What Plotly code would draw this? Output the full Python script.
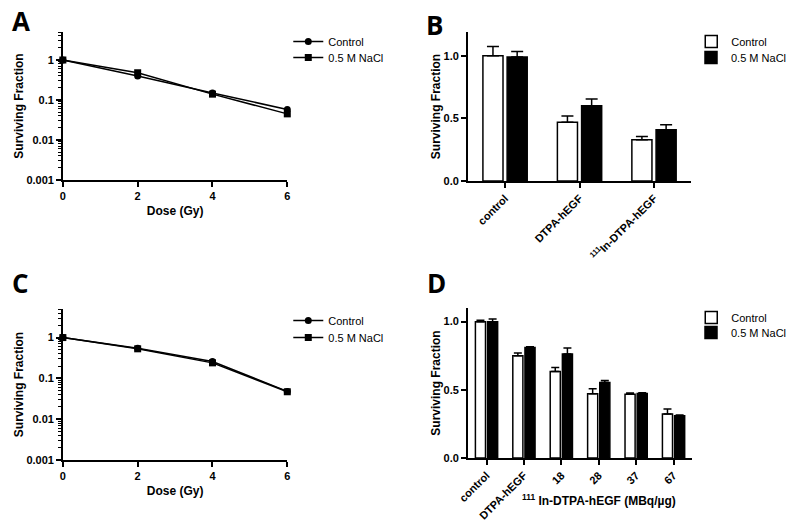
import plotly.graph_objects as go

# Panels A and C: survival vs dose (log scale)
dose = [0, 2, 4, 6]
a_control = [1.0, 0.40, 0.15, 0.058]
a_nacl = [1.0, 0.48, 0.14, 0.045]
c_control = [1.0, 0.55, 0.26, 0.048]
c_nacl = [1.0, 0.53, 0.24, 0.047]

# Panel B
b_cats = ["control", "DTPA-hEGF", "<sup>111</sup>In-DTPA-hEGF"]
b_control = [1.0, 0.47, 0.33]
b_control_err = [0.075, 0.05, 0.025]
b_nacl = [0.99, 0.60, 0.41]
b_nacl_err = [0.045, 0.055, 0.04]

# Panel D
d_cats = ["control", "DTPA-hEGF", "18", "28", "37", "67"]
d_control = [1.0, 0.75, 0.634, 0.471, 0.468, 0.322]
d_control_err = [0.01, 0.02, 0.03, 0.036, 0.008, 0.037]
d_nacl = [1.0, 0.81, 0.763, 0.554, 0.473, 0.31]
d_nacl_err = [0.02, 0.006, 0.043, 0.015, 0.006, 0.005]

log_ticks = [0.001, 0.01, 0.1, 1]
log_ticktext = ["0.001", "0.01", "0.1", "1"]
minor_vals = [m * 10.0 ** e for e in range(-3, 1) for m in range(2, 10)]

FONT = "Liberation Sans"
# page body has an 8px margin, so the figure is a bit smaller than the window
OFF = 8
W, H = 784, 512


def px_x(a, b):
    return [(a - OFF) / W, (b - OFF) / W]


def px_y(top, bottom):
    return [1 - (bottom - OFF) / H, 1 - (top - OFF) / H]


def pos(x, y):
    return (x - OFF) / W, 1 - (y - OFF) / H


fig = go.Figure()

# line panels (each trace gets its own legend box so entries sit tight)
for ctrl, nacl, xa, ya, lc, ln in [(a_control, a_nacl, "x", "y", "legend", "legend2"),
                                   (c_control, c_nacl, "x3", "y3", "legend5", "legend6")]:
    fig.add_trace(go.Scatter(x=dose, y=ctrl, mode="lines+markers", name="Control",
                             line=dict(color="black", width=1.5),
                             marker=dict(symbol="circle", size=7, color="black"),
                             xaxis=xa, yaxis=ya, legend=lc, cliponaxis=False))
    fig.add_trace(go.Scatter(x=dose, y=nacl, mode="lines+markers", name="0.5 M NaCl",
                             line=dict(color="black", width=1.5),
                             marker=dict(symbol="square", size=7, color="black"),
                             xaxis=xa, yaxis=ya, legend=ln, cliponaxis=False))

# bar panels
for cats, c, ce, n, ne, xa, ya, lc, ln, capw in [
    (b_cats, b_control, b_control_err, b_nacl, b_nacl_err, "x2", "y2", "legend3", "legend4", 6),
    (d_cats, d_control, d_control_err, d_nacl, d_nacl_err, "x4", "y4", "legend7", "legend8", 4),
]:
    fig.add_trace(go.Bar(x=cats, y=c, name="Control",
                         marker=dict(color="white", line=dict(color="black", width=1.5)),
                         error_y=dict(type="data", array=ce, arrayminus=[0] * len(ce),
                                      symmetric=False, color="black", thickness=1.5, width=capw),
                         xaxis=xa, yaxis=ya, legend=lc))
    fig.add_trace(go.Bar(x=cats, y=n, name="0.5 M NaCl",
                         marker=dict(color="black", line=dict(color="black", width=1.5)),
                         error_y=dict(type="data", array=ne, arrayminus=[0] * len(ne),
                                      symmetric=False, color="black", thickness=1.5, width=capw),
                         xaxis=xa, yaxis=ya, legend=ln))

axis_common = dict(showline=True, linecolor="black", linewidth=1.5, ticks="outside",
                   tickcolor="black", tickwidth=1.5, ticklen=5, showgrid=False, zeroline=False,
                   automargin=False,
                   tickfont=dict(family=FONT, size=11, color="black", weight="bold"),
                   title_font=dict(family=FONT, size=12, color="black", weight="bold"))

log_axis = dict(axis_common, type="log", range=[-3, 0.7], tickmode="array",
                tickvals=log_ticks, ticktext=log_ticktext,
                minor=dict(ticks="outside", ticklen=3, tickcolor="black", tickwidth=1,
                           tickmode="array", tickvals=minor_vals, showgrid=False),
                title_text="Surviving Fraction", title_standoff=0)
dose_axis = dict(axis_common, range=[0, 6], tickvals=dose, title_text="Dose (Gy)",
                 title_standoff=6)
frac_axis = dict(axis_common, tickvals=[0, 0.5, 1.0], ticktext=["0.0", "0.5", "1.0"],
                 title_text="Surviving Fraction", title_standoff=0)

fig.update_layout(
    width=W, height=H,
    margin=dict(l=0, r=0, t=0, b=0),
    paper_bgcolor="white", plot_bgcolor="white",
    barmode="group", bargap=0.35, bargroupgap=0.17,
    xaxis=dict(dose_axis, domain=px_x(63, 288), anchor="y"),
    yaxis=dict(log_axis, domain=px_y(32, 180), anchor="x"),
    xaxis3=dict(dose_axis, domain=px_x(63, 288), anchor="y3"),
    yaxis3=dict(log_axis, domain=px_y(309, 460), anchor="x3"),
    xaxis2=dict(axis_common, domain=px_x(469, 693), anchor="y2", type="category",
                range=[-0.5, 2.5], tickangle=-45),
    yaxis2=dict(frac_axis, domain=px_y(32, 181), anchor="x2", range=[0, 1.19]),
    xaxis4=dict(axis_common, domain=px_x(469, 694), anchor="y4", type="category",
                range=[-0.5, 5.5], tickangle=-45),
    yaxis4=dict(frac_axis, domain=px_y(308, 458), anchor="x4", range=[0, 1.1]),
    showlegend=True,
)

leg_common = dict(font=dict(family=FONT, size=11, color="black"), bgcolor="rgba(0,0,0,0)",
                  itemwidth=30, xanchor="left", yanchor="top")
# legend boxes: (name, left x, top y) in page pixels
leg_pos = [("legend", 289, 27), ("legend2", 289, 43),
           ("legend3", 693, 27), ("legend4", 693, 43),
           ("legend5", 289, 306), ("legend6", 289, 323),
           ("legend7", 693, 303), ("legend8", 693, 318)]
for name, lx, ly in leg_pos:
    x, y = pos(lx, ly)
    fig.update_layout({name: dict(leg_common, x=x, y=y)})

# panel letters (glyph left/top in page pixels)
for letter, gx, gy in [("A", 12, 11), ("B", 427, 15), ("C", 12, 273), ("D", 428, 273)]:
    ax, ay = pos(gx - 2, gy - 10)
    fig.add_annotation(text=letter, x=ax, y=ay, xref="paper", yref="paper",
                       xanchor="left", yanchor="top", showarrow=False,
                       font=dict(family="Open Sans", size=26, color="black", weight="bold"))

tx, ty = pos(601, 500)
fig.add_annotation(text="<sup>111</sup> In-DTPA-hEGF (MBq/\u00b5g)", x=tx, y=ty,
                   xref="paper", yref="paper", xanchor="center", yanchor="middle",
                   showarrow=False,
                   font=dict(family=FONT, size=12, color="black", weight="bold"))

fig.write_html("out.html")
